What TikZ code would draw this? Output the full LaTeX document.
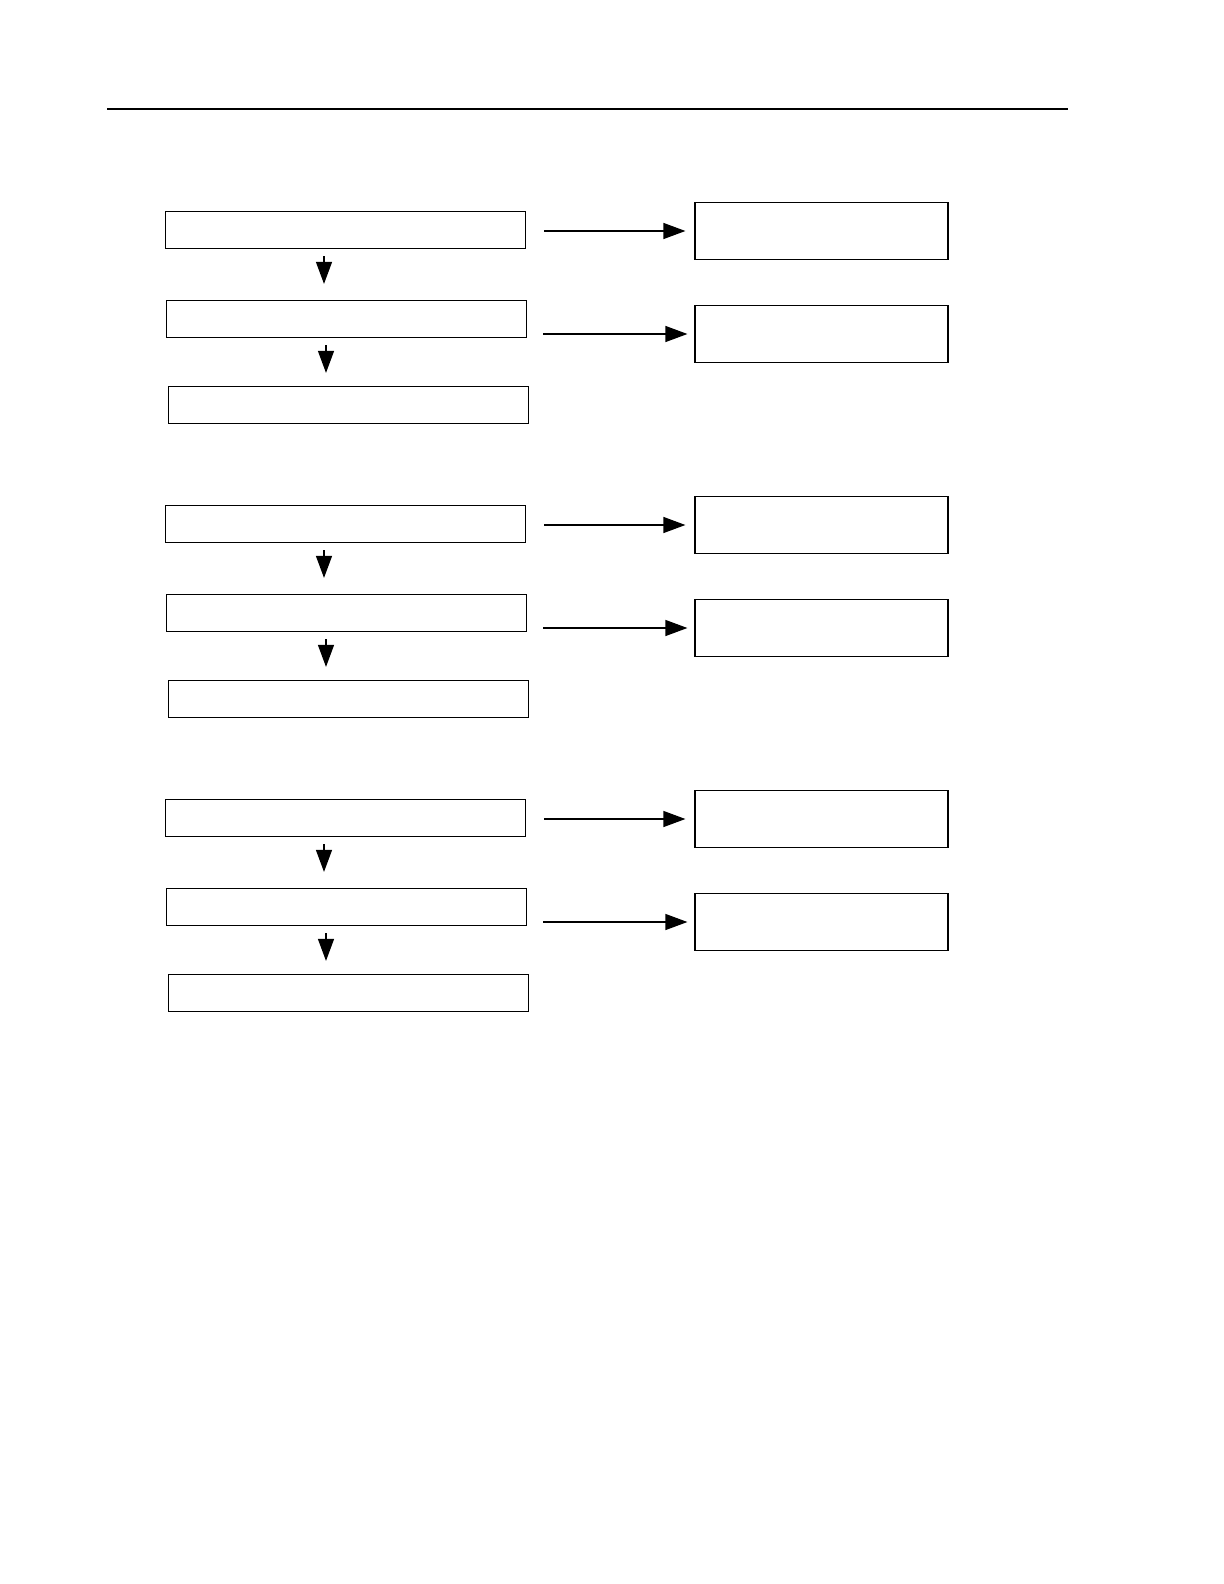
\documentclass[tikz,border=0pt]{standalone}
\usetikzlibrary{arrows.meta}
\tikzstyle{box}=[draw, rectangle, inner sep=0pt, line width=0.6pt]
\tikzstyle{wide}=[box, minimum width=180pt, minimum height=18.5pt]
\tikzstyle{side}=[box, minimum width=126.5pt, minimum height=28.5pt]
\tikzstyle{flow}=[-{Triangle[length=11pt,width=8pt]}, line width=0.6pt]

\begin{document}
\begin{tikzpicture}[x=0.5pt, y=-0.5pt]
\useasboundingbox (0,0) rectangle (1224,1584);
% Rule
    \draw[line width=1pt] (107,109) -- (1068,109);
% Three identical groups
\foreach \g in {0,1,2} {
    \node[wide] (A\g) at (345.5,230+294*\g) {};
    \node[wide] (B\g) at (346.5,319+294*\g) {};
    \node[wide] (C\g) at (348.5,405+294*\g) {};
    \node[side] (D\g) at (821.5,231+294*\g) {};
    \node[side] (E\g) at (821.5,334+294*\g) {};
% Downward steps
    \draw[flow, shorten <=3.5pt, shorten >=8pt]
        ([xshift=-10.75pt]A\g.south) -- ([xshift=-10.75pt]A\g.south |- B\g.north);
    \draw[flow, shorten <=3.5pt, shorten >=6.5pt]
        ([xshift=-10.25pt]B\g.south) -- ([xshift=-10.25pt]B\g.south |- C\g.north);
% Side results
    \draw[flow, shorten <=9pt, shorten >=4.5pt] (A\g.east |- D\g.west) -- (D\g.west);
    \draw[flow, shorten <=8pt, shorten >=3.5pt] (B\g.east |- E\g.west) -- (E\g.west);
}
\end{tikzpicture}
\end{document}
